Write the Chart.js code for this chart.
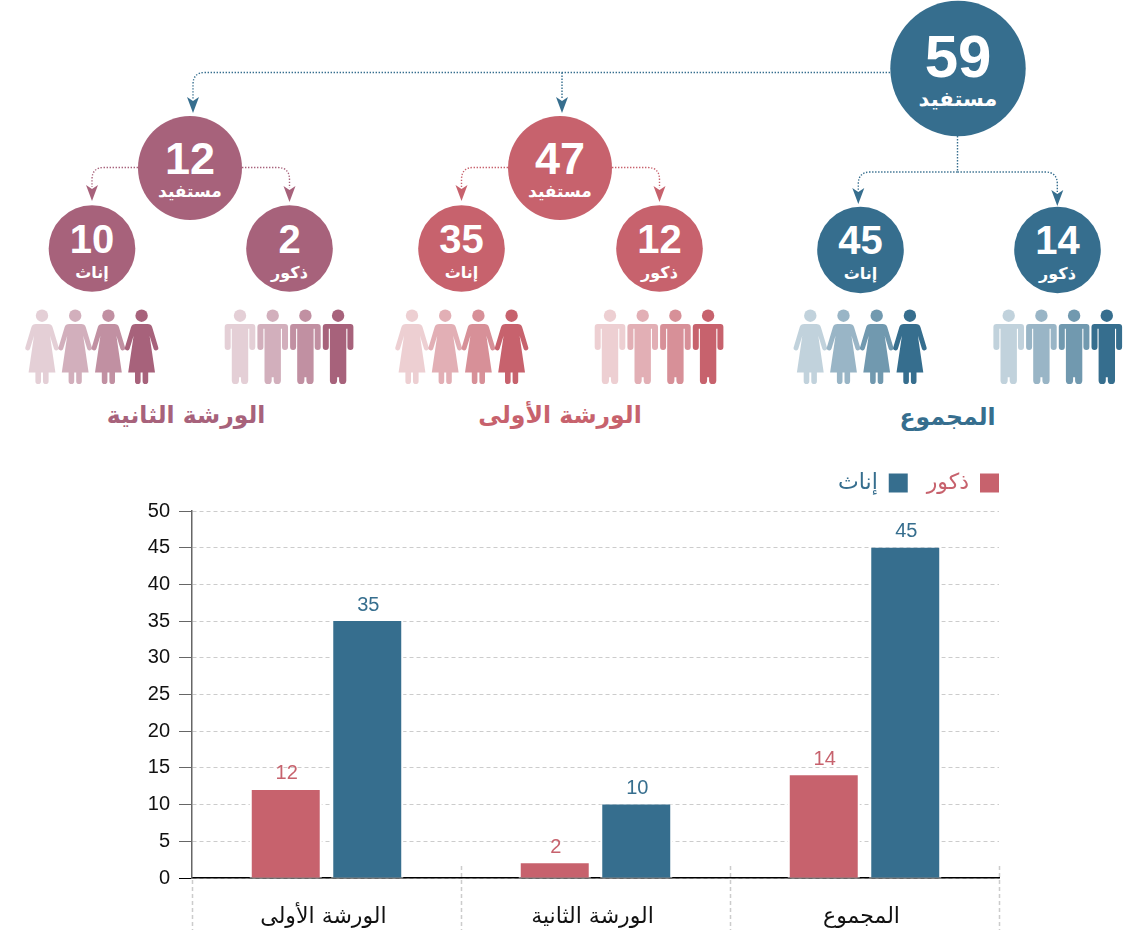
<!DOCTYPE html>
<html lang="ar">
<head>
<meta charset="utf-8">
<title>المستفيدون من الورشتين</title>
<script src="https://cdn.jsdelivr.net/npm/chart.js@4/dist/chart.umd.min.js"></script>
<style>
  html, body { margin: 0; background: #fff; }
  #page { position: relative; width: 1147px; height: 936px; overflow: hidden; }
  #schema { position: absolute; left: 0; top: 0; }
  #grafiek { position: absolute; left: 0; top: 454px; }
  .num { font-family: "Liberation Sans", Arial, sans-serif; font-weight: 700; fill: #fff; text-anchor: middle; }
  .lab { font-family: "DejaVu Sans", sans-serif; font-weight: 700; fill: #fff; text-anchor: middle; direction: rtl; }
  .titel { font-family: "DejaVu Sans", sans-serif; font-weight: 700; font-size: 23.5px; text-anchor: middle; direction: rtl; }
</style>
</head>
<body>
<div id="page">
  <svg id="schema" width="1147" height="454" viewBox="0 0 1147 454"></svg>
  <canvas id="grafiek" width="1147" height="482"></canvas>
</div>
<script>
const categories = ['الورشة الأولى', 'الورشة الثانية', 'المجموع'];
const maleValues = [12, 2, 14];
const femaleValues = [35, 10, 45];
const totalValues = [47, 12, 59];
const maleLabel = 'ذكور';
const femaleLabel = 'إناث';
const totalLabel = 'مستفيد';

const BLAUW = '#366e8e';
const ROOD = '#c7626d';
const PAARS = '#a7627b';
const koloms = [
  { kleur: ROOD, cx: 560, man: 659.5, vrouw: 461.5, titelX: 560, iconMan: 610, iconVrouw: 412 },
  { kleur: PAARS, cx: 190, man: 289.5, vrouw: 92, titelX: 186, iconMan: 240, iconVrouw: 42 },
  { kleur: BLAUW, cx: 958, man: 1057.5, vrouw: 860.5, titelX: 947.5, iconMan: 1008.7, iconVrouw: 810.3 },
];

function cirkel(cx, cy, r, kleur, waarde, label, numSize, numY, labSize, labY) {
  return `<circle cx="${cx}" cy="${cy}" r="${r}" fill="${kleur}"/>
    <text class="num" x="${cx}" y="${numY}" font-size="${numSize}">${waarde}</text>
    <text class="lab" x="${cx}" y="${labY}" font-size="${labSize}">${label}</text>`;
}

const stippel = 'fill="none" stroke-width="1.4" stroke-dasharray="1.4 1.6"';

// dotted elbow with an arrowhead at the end
function pijl(x0, y0, x1, tip, kleur) {
  const r = 12;
  const s = x1 < x0 ? -1 : 1;
  return `<path d="M${x0} ${y0} H${x1 - s * r} Q${x1} ${y0} ${x1} ${y0 + r} V${tip - 14}" stroke="${kleur}" ${stippel}/>
    <path d="M${x1 - 6} ${tip - 16} L${x1} ${tip - 12} L${x1 + 6} ${tip - 16} L${x1} ${tip} Z" fill="${kleur}"/>`;
}

function man(x, kleur, opacity) {
  const y = 315.7;
  return `<g transform="translate(${x} ${y})" fill="${kleur}" opacity="${opacity}">
    <circle r="6.2"/>
    <path d="M-12.3 8.3H12.3Q15.3 8.3 15.3 11.3V31.3A3 3 0 0 1 9.3 31.3V13H8.2V64.7A3.6 3.6 0 0 1 1 64.7V61.5H-1V64.7A3.6 3.6 0 0 1 -8.2 64.7V13H-9.3V31.3A3 3 0 0 1 -15.3 31.3V11.3Q-15.3 8.3 -12.3 8.3Z"/>
  </g>`;
}

function vrouw(x, kleur, opacity) {
  const y = 315.7;
  return `<g transform="translate(${x} ${y})" fill="${kleur}" opacity="${opacity}">
    <circle r="6.2"/>
    <path d="M-6 8.3H6Q9.6 8.3 10.6 11.5L16.6 31.5A2.4 2.4 0 0 1 12 33L8 20L13.4 56.7H-13.4L-8 20L-12 33A2.4 2.4 0 0 1 -16.6 31.5L-10.6 11.5Q-9.6 8.3 -6 8.3Z"/>
    <path d="M-6.6 56H-1V65.6A2.8 2.8 0 0 1 -6.6 65.6ZM1 56H6.6V65.6A2.8 2.8 0 0 1 1 65.6Z"/>
  </g>`;
}

let schema = '';
schema += pijl(890, 72.5, 193, 113, BLAUW);
schema += `<path d="M562 72.5V99" stroke="${BLAUW}" ${stippel}/>
  <path d="M556 97L562 101L568 97L562 113Z" fill="${BLAUW}"/>`;
schema += `<path d="M957.5 136V172" stroke="${BLAUW}" ${stippel}/>`;
schema += pijl(957.5, 172, 858.3, 204, BLAUW) + pijl(957.5, 172, 1057.3, 206, BLAUW);

const opacities = [0.3, 0.5, 0.7, 1];
koloms.forEach((kolom, i) => {
  if (i < 2) {
    schema += pijl(kolom.cx - 52, 167.5, kolom.vrouw, 201, kolom.kleur);
    schema += pijl(kolom.cx + 52, 167.5, kolom.man, 202, kolom.kleur);
    schema += cirkel(kolom.cx, 168, 52, kolom.kleur, totalValues[i], totalLabel, 45, 174, 17, 197);
  } else {
    schema += cirkel(kolom.cx, 68.5, 67.7, kolom.kleur, totalValues[i], totalLabel, 60, 77, 21, 106);
  }
  const cy = i < 2 ? 248.5 : 250;
  const d = cy - 250;
  schema += cirkel(kolom.man, cy, 43.3, kolom.kleur, maleValues[i], maleLabel, 40, 254 + d, 16, 279 + d);
  schema += cirkel(kolom.vrouw, cy, 43.3, kolom.kleur, femaleValues[i], femaleLabel, 40, 254 + d, 16, 279 + d);
  opacities.forEach((o, j) => {
    schema += man(kolom.iconMan + j * 32.7, kolom.kleur, o);
    schema += vrouw(kolom.iconVrouw + j * 33.2, kolom.kleur, o);
  });
  schema += `<text class="titel" x="${kolom.titelX}" y="${i === 2 ? 425 : 423}" fill="${kolom.kleur}">${categories[i]}</text>`;
});
document.getElementById('schema').innerHTML = schema;

// legend sits flush with the plot's right edge and needs a fixed height
const legendPlacement = {
  id: 'legendPlacement',
  beforeInit(chart) {
    const legend = chart.legend;
    const fit = legend.fit;
    const draw = legend.draw;
    legend.fit = function () {
      fit.call(legend);
      legend.height = 57;
    };
    legend.draw = function () {
      const ctx = legend.ctx;
      ctx.save();
      ctx.translate(19, -1);
      draw.call(legend);
      ctx.restore();
    };
  },
};

// white strip next to each bar, the grid stops just short of the bars
const barHalo = {
  id: 'barHalo',
  beforeDatasetsDraw(chart) {
    const { ctx } = chart;
    ctx.save();
    ctx.fillStyle = '#fff';
    chart.data.datasets.forEach((ds, i) => {
      chart.getDatasetMeta(i).data.forEach(el => {
        ctx.fillRect(el.x - el.width / 2 - 2, el.y, el.width + 4, el.base - el.y);
      });
    });
    ctx.restore();
  },
};

const barValues = {
  id: 'barValues',
  afterDatasetsDraw(chart) {
    const { ctx } = chart;
    ctx.save();
    ctx.font = '20px "Liberation Sans", Arial, sans-serif';
    ctx.textAlign = 'center';
    ctx.textBaseline = 'alphabetic';
    chart.data.datasets.forEach((ds, i) => {
      ctx.fillStyle = ds.backgroundColor;
      chart.getDatasetMeta(i).data.forEach((el, j) => {
        ctx.fillText(ds.data[j], el.x + 1, el.y - 10.5);
      });
    });
    ctx.restore();
  },
};

const categorySeparators = {
  id: 'categorySeparators',
  afterDraw(chart) {
    const { ctx, chartArea, scales } = chart;
    ctx.save();
    ctx.strokeStyle = '#ccc';
    ctx.lineWidth = 1.5;
    ctx.setLineDash([4, 3]);
    categories.concat('').forEach((c, i) => {
      const x = Math.round(scales.x.getPixelForValue(i - 0.5)) + 0.5;
      ctx.beginPath();
      ctx.moveTo(x, i === 0 ? chartArea.bottom + 2 : chartArea.bottom - 12);
      ctx.lineTo(x, chart.height - 6);
      ctx.stroke();
    });
    ctx.restore();
  },
};

new Chart(document.getElementById('grafiek'), {
  type: 'bar',
  data: {
    labels: categories,
    datasets: [
      { label: maleLabel, data: maleValues, backgroundColor: ROOD },
      { label: femaleLabel, data: femaleValues, backgroundColor: BLAUW },
    ],
  },
  options: {
    responsive: false,
    devicePixelRatio: 1,
    animation: false,
    categoryPercentage: 0.606,
    barPercentage: 0.834,
    layout: { padding: { left: 0, right: 148, top: 0, bottom: 0 } },
    plugins: {
      tooltip: { enabled: false },
      legend: {
        position: 'top',
        align: 'start',
        rtl: true,
        textDirection: 'rtl',
        labels: {
          boxWidth: 19,
          boxHeight: 19,
          padding: 19,
          font: { family: '"DejaVu Sans", sans-serif', size: 22 },
          generateLabels(chart) {
            return chart.data.datasets.map((ds, i) => ({
              text: ds.label,
              fillStyle: ds.backgroundColor,
              strokeStyle: ds.backgroundColor,
              fontColor: ds.backgroundColor,
              lineWidth: 0,
              datasetIndex: i,
            }));
          },
        },
      },
    },
    scales: {
      x: {
        afterFit(scale) { scale.height = 58; },
        grid: { display: false },
        border: { color: '#000', width: 1.5 },
        ticks: {
          color: '#111',
          padding: 18,
          labelOffset: -3,
          maxRotation: 0,
          font: { family: '"DejaVu Sans", sans-serif', size: 22 },
        },
      },
      y: {
        min: 0,
        max: 50,
        afterFit(scale) { scale.width = 192; },
        grid: {
          color: '#ccc',
          lineWidth: 1,
          tickLength: 13,
          tickColor: ctx => (ctx.tick && ctx.tick.value === 0 ? '#000' : '#666'),
          tickBorderDash: [],
        },
        border: { color: '#666', width: 1.5, dash: [4, 3] },
        ticks: {
          stepSize: 5,
          color: '#111',
          padding: 9,
          font: { family: '"Liberation Sans", Arial, sans-serif', size: 20 },
        },
      },
    },
  },
  plugins: [legendPlacement, barHalo, barValues, categorySeparators],
});
</script>
</body>
</html>
